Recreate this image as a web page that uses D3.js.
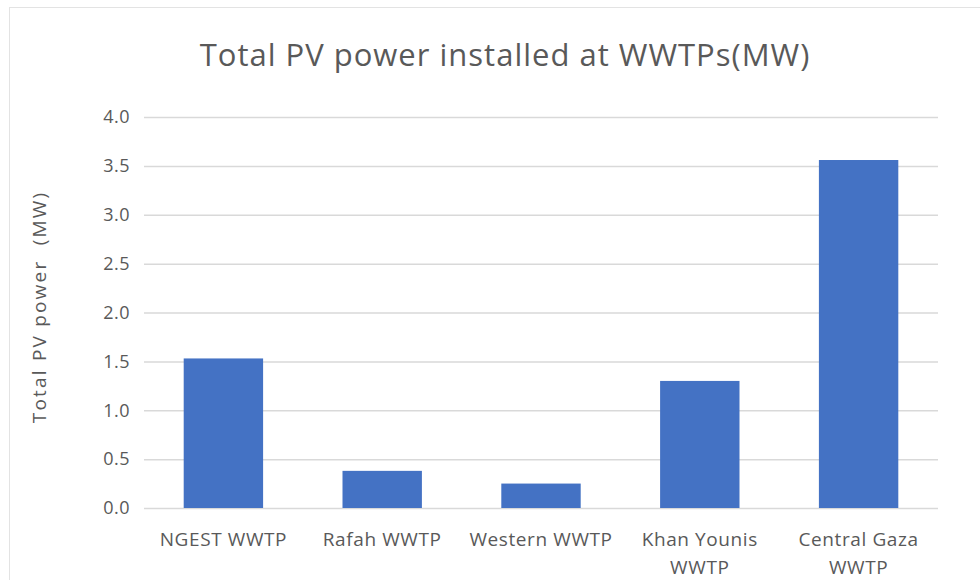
<!DOCTYPE html>
<html>
<head>
<meta charset="utf-8">
<script src="https://cdn.jsdelivr.net/npm/d3@7"></script>
<style>
  body { margin: 0; background: #fff; }
  svg { display: block; font-family: "Open Sans", "Noto Sans", sans-serif; }
</style>
</head>
<body>
<svg id="chart" width="980" height="580"></svg>
<script>
// data
const plants = ["NGEST WWTP", "Rafah WWTP", "Western WWTP", "Khan Younis WWTP", "Central Gaza WWTP"];
const plantLines = [["NGEST WWTP"], ["Rafah WWTP"], ["Western WWTP"], ["Khan Younis", "WWTP"], ["Central Gaza", "WWTP"]];
const pvPower = [1.53, 0.38, 0.25, 1.30, 3.56];
const yTicks = [0, 0.5, 1, 1.5, 2, 2.5, 3, 3.5, 4];

const svg = d3.select("#chart");
const fmt = d3.format(".1f");
const textCol = "#595959";

var margin = {top: 117, right: 42, bottom: 72, left: 144},
  width = 980 - margin.left - margin.right,
  height = 580 - margin.top - margin.bottom;

// chart area frame (runs off the right and bottom edges)
svg.append("rect")
  .attr("x", 9.5).attr("y", 7.5)
  .attr("width", 1000).attr("height", 700)
  .attr("fill", "none")
  .attr("stroke", "#e3e3e3")
  .attr("stroke-width", 1);

svg.append("text")
  .attr("x", 505)
  .attr("y", 66)
  .attr("text-anchor", "middle")
  .attr("fill", textCol)
  .attr("font-size", 31)
  .attr("letter-spacing", 1)
  .text("Total PV power installed at WWTPs(MW)");

var g = svg.append("g")
  .attr("transform", "translate(" + margin.left + "," + margin.top + ")");

var x = d3.scaleBand()
  .domain(plants)
  .range([0, width])
  .paddingInner(0.5)
  .paddingOuter(0.25);

var y = d3.scaleLinear()
  .domain([0, 4])
  .range([height, 0]);

// gridlines + tick labels
var yAxis = g.append("g")
  .call(d3.axisLeft(y).tickValues(yTicks).tickFormat(fmt).tickSize(-width).tickPadding(14));
yAxis.select(".domain").remove();
yAxis.selectAll(".tick line").attr("stroke", "#d9d9d9").attr("stroke-width", 1.5);
yAxis.selectAll(".tick text")
  .attr("fill", textCol)
  .attr("font-size", 18)
  .attr("letter-spacing", 0.5)
  .attr("font-family", "\"Open Sans\", \"Noto Sans\", sans-serif");

g.selectAll("rect.bar")
  .data(pvPower)
  .enter()
  .append("rect")
  .attr("class", "bar")
  .attr("x", function(d, i) { return x(plants[i]); })
  .attr("y", function(d) { return y(d); })
  .attr("width", x.bandwidth())
  .attr("height", function(d) { return height - y(d); })
  .attr("fill", "#4472c4");

// category labels, wrapped like the original
var labels = g.selectAll("text.cat")
  .data(plantLines)
  .enter()
  .append("text")
  .attr("class", "cat")
  .attr("text-anchor", "middle")
  .attr("fill", textCol)
  .attr("font-size", 19)
  .attr("letter-spacing", 0.6)
  .attr("transform", function(d, i) {
    return "translate(" + (x(plants[i]) + x.bandwidth() / 2) + "," + (height + 38) + ")";
  });

labels.selectAll("tspan")
  .data(function(d) { return d; })
  .enter()
  .append("tspan")
  .attr("x", 0)
  .attr("dy", function(d, i) { return i === 0 ? 0 : 28; })
  .text(function(d) { return d; });

svg.append("text")
  .attr("transform", "translate(46,307) rotate(-90)")
  .attr("text-anchor", "middle")
  .attr("fill", textCol)
  .attr("font-size", 19)
  .attr("letter-spacing", 2.2)
  .attr("xml:space", "preserve")
  .text("Total PV power  (MW)");
</script>
</body>
</html>
